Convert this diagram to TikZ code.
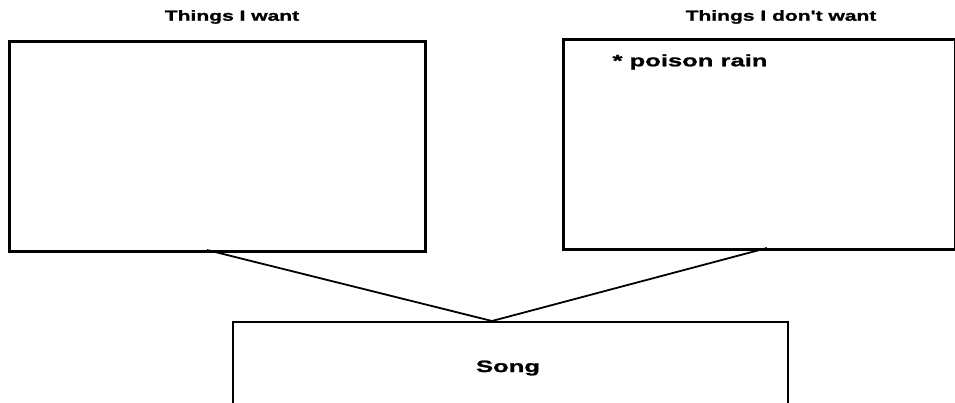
\documentclass[tikz,border=0pt]{standalone}
\usepackage{fontspec}
\setmainfont{Liberation Sans}
\newfontfamily\widefont[FakeStretch=1.45,FakeBold=1.2]{Liberation Sans}
\newfontfamily\widerfont[FakeStretch=1.55,FakeBold=1.3]{Liberation Sans}
\begin{document}
\begin{tikzpicture}[x=1pt,y=-1pt,
  boxline/.style={draw=black,line width=2.8pt},
  conn/.style={draw=black,line width=1.8pt},
  titletext/.style={font=\widefont\bfseries\fontsize{14.5}{16}\selectfont,inner sep=0pt},
  bodytext/.style={font=\widerfont\bfseries\fontsize{16.5}{18}\selectfont,inner sep=0pt}]
\useasboundingbox (0,0) rectangle (955,403);
% boxes
\node[boxline,minimum width=416pt,minimum height=210pt,inner sep=0pt,anchor=north west] (want) at (8,40) {};
\node[boxline,minimum width=392pt,minimum height=210pt,inner sep=0pt,anchor=north west] (dontwant) at (562,38) {};
\draw[boxline] (233,403) -- (233,322) -- (788,322) -- (788,403);
% titles
\node[titletext] (t1) at (232,17) {Things I want};
\node[titletext] (t2) at (781,17) {Things I don't want};
\node[bodytext] (p) at (690,62) {* poison rain};
\node[bodytext] (song) at (508,368) {Song};
% connectors
\coordinate (a) at (207,250);
\coordinate (b) at (767,248);
\coordinate (apex) at (492,321);
\draw[conn] (a) -- (apex) -- (b);
\end{tikzpicture}
\end{document}
